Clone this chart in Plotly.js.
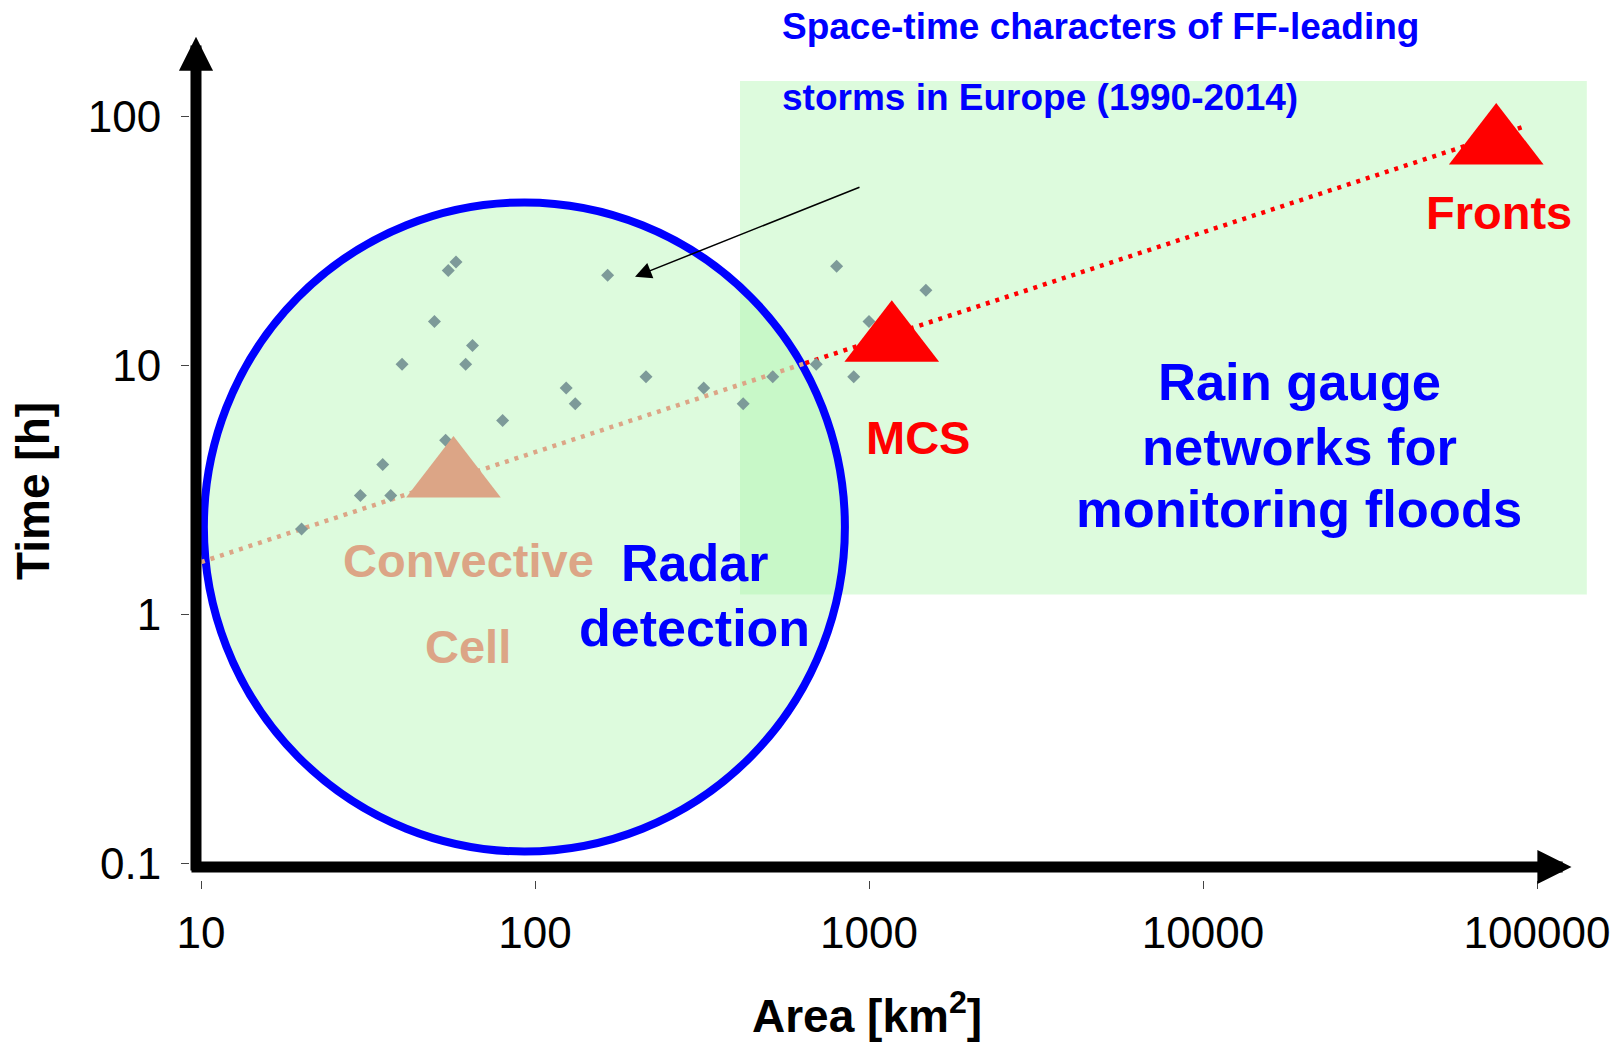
<!DOCTYPE html>
<html>
<head>
<meta charset="utf-8">
<script src="https://cdn.plot.ly/plotly-3.0.1.min.js"></script>
<style>
html, body { margin: 0; padding: 0; background: #ffffff; }
#chart { width: 1619px; height: 1045px; }
</style>
</head>
<body>
<div id="chart"></div>
<script>
// ---- Data ----
// Flash-flood-leading storms (area km2, duration h)
const stormArea = [20, 30, 37, 35, 40, 50, 54, 55, 58, 62, 65, 80, 124, 132, 165, 215, 320, 420, 515, 695, 800, 900, 1000, 1480];
const stormTime = [2.2, 3.0, 3.0, 4.0, 10.1, 15, 5, 24, 26, 10.1, 12, 6, 8.1, 7, 23, 9, 8.1, 7, 9, 10.1, 25, 9, 15, 20];

// Storm types
const typeNames = ['Convective Cell', 'MCS', 'Fronts'];
const typeArea = [57, 1170, 75500];
const typeTime = [3.56, 12.5, 77.4];

// Space-time scaling line (convective part and MCS/front part)
const trendConvArea = [10, 645];
const trendConvTime = [1.62, 10.2];
const trendLargeArea = [645, 91200];
const trendLargeTime = [10.2, 90.8];

// Detection domains
const radarArea = [10.2, 847];      // circle extent
const radarTime = [0.1115, 45.1];
const gaugeArea = [411, 141000];    // rectangle extent
const gaugeTime = [1.2, 138.6];

// Axis ticks
const xTickVals = [10, 100, 1000, 10000, 100000];
const xTickText = ['10', '100', '1000', '10000', '100000'];
const yTickVals = [0.1, 1, 10, 100];
const yTickText = ['0.1', '1', '10', '100'];

// ---- Styling ----
const FONT = 'Liberation Sans, Arial, Helvetica, sans-serif';
const BLUE = '#0000FF';
const RED = '#FF0000';
const TAN = '#DCA586';
const GREEN_FILL = 'rgba(170,245,170,0.4)';

const M = { l: 190, r: 29, t: 30, b: 165 };
const W = 1619, H = 1045;
const PW = W - M.l - M.r, PH = H - M.t - M.b;
// pixel -> paper helpers for text labels
const px = v => (v - M.l) / PW;
const py = v => (H - M.b - v) / PH;

const traces = [
  {
    x: trendConvArea, y: trendConvTime, mode: 'lines', type: 'scatter',
    line: { color: TAN, width: 4.5, dash: '4px,6px' }, hoverinfo: 'skip'
  },
  {
    x: trendLargeArea, y: trendLargeTime, mode: 'lines', type: 'scatter',
    line: { color: RED, width: 4.5, dash: '4px,6px' }, hoverinfo: 'skip'
  },
  {
    x: stormArea, y: stormTime, mode: 'markers', type: 'scatter',
    marker: { symbol: 'diamond', size: 10, color: '#7D9A99' }
  },
  {
    x: typeArea, y: typeTime, mode: 'markers', type: 'scatter', text: typeNames,
    marker: { symbol: 'triangle-up', size: 82, color: [TAN, RED, RED], line: { width: 0 } },
    cliponaxis: false
  }
];

const arrowBase = { xref: 'x', yref: 'y', axref: 'x', ayref: 'y', text: '',
  showarrow: true, arrowhead: 2, arrowcolor: '#000', standoff: 0, startstandoff: 0 };

const textAnn = (text, x, y, size, color, anchor) => ({
  xref: 'paper', yref: 'paper', x: px(x), y: py(y),
  xanchor: anchor || 'center', yanchor: 'middle', text: text, showarrow: false,
  font: { family: FONT, size: size, color: color, weight: 'bold' }
});

const annotations = [
  // y axis with arrow
  Object.assign({}, arrowBase, { x: 0.985, y: 2.3197, ax: 0.985, ay: -1.035, arrowsize: 0.62, arrowwidth: 11 }),
  // x axis with arrow
  Object.assign({}, arrowBase, { x: 5.1033, y: -1.0149, ax: 0.967, ay: -1.0149, arrowsize: 0.62, arrowwidth: 11 }),
  // pointer to the storm points
  Object.assign({}, arrowBase, { x: 2.2994, y: 1.3558, ax: 2.976, ay: 1.7173, arrowsize: 2.2, arrowwidth: 1.5 }),

  // axis titles
  Object.assign(textAnn('Area [km<sup>2</sup>]', 867, 1013, 46, '#000'), { borderpad: 0 }),
  Object.assign(textAnn('Time [h]', 33, 491, 46, '#000'), { textangle: -90 }),

  // texts
  textAnn('Space-time characters of FF-leading', 780, 26, 37, BLUE, 'left'),
  textAnn('storms in Europe (1990-2014)', 780, 98, 37, BLUE, 'left'),
  textAnn('Fronts', 1499, 212, 47, RED),
  textAnn('MCS', 918, 437, 47, RED),
  textAnn('Convective', 468, 560, 47, TAN),
  textAnn('Cell', 468, 646, 47, TAN),
  textAnn('Radar', 694, 563, 52, BLUE),
  textAnn('detection', 694, 628, 52, BLUE),
  textAnn('Rain gauge', 1299, 382, 52.5, BLUE),
  textAnn('networks for', 1299, 446, 52.5, BLUE),
  textAnn('monitoring floods', 1299, 509, 52.5, BLUE)
];

const shapes = [
  { type: 'rect', xref: 'x', yref: 'y', layer: 'below',
    x0: gaugeArea[0], x1: gaugeArea[1], y0: gaugeTime[0], y1: gaugeTime[1],
    fillcolor: GREEN_FILL, line: { width: 0 } },
  { type: 'circle', xref: 'x', yref: 'y', layer: 'below',
    x0: radarArea[0], x1: radarArea[1], y0: radarTime[0], y1: radarTime[1],
    fillcolor: GREEN_FILL, line: { color: BLUE, width: 8 } }
];

const layout = {
  width: W, height: H,
  margin: M,
  paper_bgcolor: '#ffffff', plot_bgcolor: 'rgba(0,0,0,0)',
  showlegend: false, hovermode: false,
  xaxis: {
    type: 'log', range: [1 - 11 / 334, 1 - 11 / 334 + PW / 334],
    tickvals: xTickVals, ticktext: xTickText,
    showgrid: false, zeroline: false, showline: false,
    ticks: 'outside', ticklen: 8, tickwidth: 1, tickcolor: '#444',
    ticklabelstandoff: 6,
    tickfont: { family: FONT, size: 44, color: '#000' },
    automargin: false
  },
  yaxis: {
    type: 'log', range: [-1.0671, -1.0671 + PH / 249],
    tickvals: yTickVals, ticktext: yTickText,
    showgrid: false, zeroline: false, showline: false,
    ticks: 'outside', ticklen: 8, tickwidth: 1, tickcolor: '#444',
    ticklabelstandoff: 11,
    tickfont: { family: FONT, size: 44, color: '#000' },
    automargin: false
  },
  shapes: shapes,
  annotations: annotations
};

Plotly.newPlot('chart', traces, layout, { staticPlot: true, displayModeBar: false });
</script>
</body>
</html>
